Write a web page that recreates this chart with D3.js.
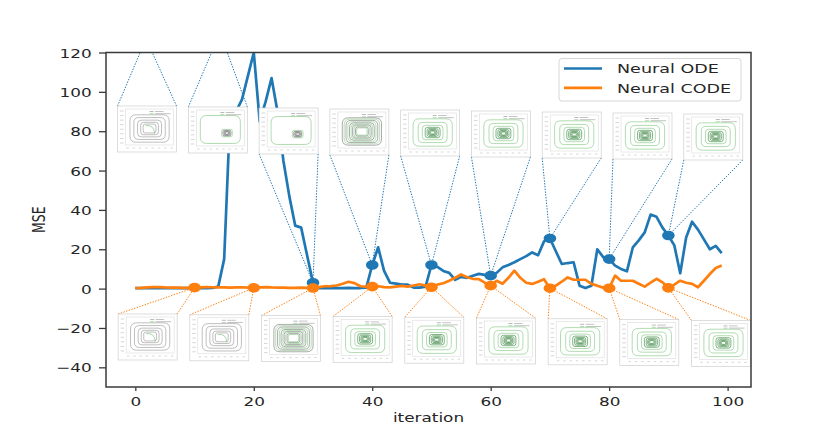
<!DOCTYPE html>
<html><head><meta charset="utf-8">
<script src="https://cdn.jsdelivr.net/npm/d3@7"></script>
<style>
body{margin:0;background:#fff}
svg{display:block}
text{font-family:"DejaVu Sans",sans-serif;fill:#262626}
</style>
</head><body>
<svg id="c" width="831" height="435"></svg>
<script>
// ---------- data ----------
const seriesNames = ["Neural ODE", "Neural CODE"];
const ode = [
  0.2,0.2,0.3,0.2,0.2,0.3,0.2,0.2,0.2,0.3,
  0.2,0.2,0.3,0.4,1,15,88,90,96,108,
  120,85,95,107,90,65,47,32,31,17,
  3,0.3,0.3,0.4,0.3,0.3,0.4,0.3,0.3,0.5,
  12,21,9,3,2.5,2,2,0.5,0.5,1,
  12,11,9,8,4.5,6,5.5,6.5,7.5,7,
  6.6,8,10.8,12,13.4,15,16.5,18.4,17,24,
  25.5,19,12.5,13,13.4,1.5,0.3,1.5,20,16,
  15,11.7,10,8.8,21,24.5,28.6,37.6,36.5,31,
  27,22,7.8,26,34,30,25,20,21.7,18
];
const codeV = [
  0.3,0.4,0.6,0.8,0.8,0.6,0.5,0.5,0.4,0.4,
  0.5,0.6,0.8,0.7,0.6,0.6,0.5,0.6,0.7,0.5,
  0.4,0.6,0.8,0.6,0.5,0.5,0.4,0.4,0.5,0.4,
  0.3,0.8,1.2,1.3,1.6,2.5,3.5,2.8,1.2,1.0,
  1.0,1.2,0.8,0.6,1.0,1.4,1.0,1.6,2.2,1.5,
  0.7,2.0,2.7,4.0,5.5,7.2,5.8,5.0,4.8,3.0,
  1.5,4.0,2.5,5.5,9.1,5.5,3.0,2.4,3.5,4.8,
  0.2,1.5,3.5,5.7,4.5,4.5,4.5,2.4,1.5,0.5,
  0.2,6.6,4.0,4.0,4.0,2.5,1.0,3.0,5.0,3.2,
  0.4,2.0,4.0,3.0,2.4,0.7,4.0,7.4,10.5,11.7
];
const xTicks = [0,20,40,60,80,100];
const yTicks = [-40,-20,0,20,40,60,80,100,120];
const odeMarkerIters = [30,40,50,60,70,80,90];
const codeMarkerIters = [10,20,30,40,50,60,70,80,90];
// connector targets of the first two upper insets (above the visible range)
const odeOffTargets = [[1.8,127],[14.3,130]];
const upperThumbTypes = ["gray","sparse","sparse","dense","green","green","green","green","green"];
const lowerThumbTypes = ["gray","gray","dense","green","green","green","green","green","green"];

// ---------- layout ----------
const C1 = "#1f77b4", C2 = "#ff7f0e";
const SX = 1.35;               // horizontal stretch of the original picture
const M = {l:106, r:751, t:52.5, b:387};
const x = d3.scaleLinear().domain([-4.95,103.95]).range([M.l,M.r]);
const y = d3.scaleLinear().domain([-50,120]).range([M.b,M.t]);
const svg = d3.select("#c");
svg.append("defs").append("clipPath").attr("id","clip")
  .append("rect").attr("x",M.l).attr("y",M.t).attr("width",M.r-M.l).attr("height",M.b-M.t);

const plot = svg.append("g").attr("clip-path","url(#clip)");
const line = d3.line().x((d,i)=>x(i)).y(d=>y(d));
plot.append("path").datum(ode).attr("d",line).attr("fill","none")
  .attr("stroke",C1).attr("stroke-width",2.7).attr("stroke-linejoin","round");
plot.append("path").datum(codeV).attr("d",line).attr("fill","none")
  .attr("stroke",C2).attr("stroke-width",2.7).attr("stroke-linejoin","round");

// inset boxes
const TW = 59, TH = 46;
const upperBoxes = upperThumbTypes.map((t,k)=>({x0:x(-3+11.95*k), y0:106+k*1.0, type:t}));
const lowerBoxes = lowerThumbTypes.map((t,k)=>({x0:x(-2.9+12.1*k), y0:314+k*0.8, type:t}));

// connectors
const upperTargets = odeOffTargets.concat(odeMarkerIters.map(i=>[i,ode[i]]));
const conn = plot.append("g").attr("fill","none").attr("stroke-width",1).attr("stroke-dasharray","1.4,1.4");
upperBoxes.forEach((b,k)=>{
  const [ti,tv] = upperTargets[k];
  const tx = x(ti), ty = y(tv);
  const cy = ty < b.y0 ? b.y0 : b.y0+TH;
  [[b.x0,cy],[b.x0+TW,cy]].forEach(p=>{
    conn.append("line").attr("x1",p[0]).attr("y1",p[1]).attr("x2",tx).attr("y2",ty).attr("stroke",C1);
  });
});
lowerBoxes.forEach((b,k)=>{
  const i = codeMarkerIters[k];
  const tx = x(i), ty = y(codeV[i]);
  [[b.x0,b.y0],[b.x0+TW,b.y0]].forEach(p=>{
    conn.append("line").attr("x1",p[0]).attr("y1",p[1]).attr("x2",tx).attr("y2",ty).attr("stroke",C2);
  });
});

// markers
const mk = svg.append("g");
odeMarkerIters.forEach(i=>mk.append("ellipse").attr("cx",x(i)).attr("cy",y(ode[i])).attr("rx",6.3).attr("ry",4.8).attr("fill",C1));
codeMarkerIters.forEach(i=>mk.append("ellipse").attr("cx",x(i)).attr("cy",y(codeV[i])).attr("rx",6.3).attr("ry",4.8).attr("fill",C2));

// thumbnails (decorative phase portraits)
function rr(cx,cy,hw,hh){
  const r = Math.min(hw,hh)*0.45;
  const p = d3.path();
  p.moveTo(cx-hw+r,cy-hh);
  p.lineTo(cx+hw-r,cy-hh); p.quadraticCurveTo(cx+hw,cy-hh,cx+hw,cy-hh+r);
  p.lineTo(cx+hw,cy+hh-r); p.quadraticCurveTo(cx+hw,cy+hh,cx+hw-r,cy+hh);
  p.lineTo(cx-hw+r,cy+hh); p.quadraticCurveTo(cx-hw,cy+hh,cx-hw,cy+hh-r);
  p.lineTo(cx-hw,cy-hh+r); p.quadraticCurveTo(cx-hw,cy-hh,cx-hw+r,cy-hh);
  return p.toString();
}
const GREY="#8a8a8a", GL="#7cc47c", GD="#2f7f35";
const thumbs = svg.append("g");
function thumb(b){
  const g = thumbs.append("g");
  g.append("rect").attr("x",b.x0).attr("y",b.y0).attr("width",TW).attr("height",TH)
    .attr("fill","#fff").attr("stroke","#cfcfcf").attr("stroke-width",0.7);
  const ix=b.x0+8, iy=b.y0+3, iw=TW-11, ih=TH-10;
  g.append("rect").attr("x",ix).attr("y",iy).attr("width",iw).attr("height",ih)
    .attr("fill","none").attr("stroke","#d4d4d4").attr("stroke-width",0.5);
  for(let j=0;j<8;j++){
    g.append("line").attr("x1",b.x0+2.5).attr("x2",b.x0+6).attr("y1",iy+2+j*(ih-4)/7).attr("y2",iy+2+j*(ih-4)/7)
      .attr("stroke","#c4c4c4").attr("stroke-width",0.7);
    g.append("line").attr("x1",ix+2+j*(iw-4)/7-1.2).attr("x2",ix+2+j*(iw-4)/7+1.2).attr("y1",iy+ih+3).attr("y2",iy+ih+3)
      .attr("stroke","#c4c4c4").attr("stroke-width",0.7);
  }
  // tiny legend
  const lx = ix+iw-24, ly = iy+2.5;
  g.append("line").attr("x1",lx).attr("x2",lx+4).attr("y1",ly).attr("y2",ly).attr("stroke",GREY).attr("stroke-width",0.6);
  g.append("line").attr("x1",lx).attr("x2",lx+4).attr("y1",ly+2.2).attr("y2",ly+2.2).attr("stroke",GL).attr("stroke-width",0.6);
  g.append("line").attr("x1",lx+5.5).attr("x2",lx+14).attr("y1",ly).attr("y2",ly).attr("stroke","#9a9a9a").attr("stroke-width",0.6);
  g.append("line").attr("x1",lx+5.5).attr("x2",lx+21).attr("y1",ly+2.2).attr("y2",ly+2.2).attr("stroke","#9a9a9a").attr("stroke-width",0.6);
  const cx=ix+iw/2, cy=iy+ih/2+1.5, hw=iw/2*0.86, hh=ih/2*0.8;
  const ring=(s,col,w,ox=0,oy=0)=>g.append("path").attr("d",rr(cx+ox,cy+oy,hw*s,hh*s))
    .attr("fill","none").attr("stroke",col).attr("stroke-width",w);
  if(b.type==="gray"){
    [0.95,0.76,0.58,0.43,0.31].forEach(s=>ring(s,GREY,0.55));
    g.append("path").attr("d",`M${cx-hw*0.2},${cy-hh*0.2} Q${cx+hw*0.2},${cy-hh*0.3} ${cx+hw*0.25},${cy+hh*0.35}`)
      .attr("fill","none").attr("stroke",GL).attr("stroke-width",0.7);
  } else if(b.type==="sparse"){
    ring(0.97,GL,0.6);
    [0.26,0.19,0.13,0.08].forEach((s,j)=>ring(s,j===0?GL:"#444",0.55,hw*0.32,hh*0.25));
  } else if(b.type==="dense"){
    [0.95,0.86,0.77,0.68,0.6,0.52,0.45,0.38,0.31,0.25].forEach((s,j)=>ring(s,j%2?GL:"#666",0.55));
  } else {
    [0.95,0.7,0.5,0.36,0.27,0.2,0.15,0.1].forEach((s,j)=>ring(s,j<3?GL:GD,0.6));
  }
}
upperBoxes.forEach(thumb);
lowerBoxes.forEach(thumb);

// frame
svg.append("rect").attr("x",M.l).attr("y",M.t).attr("width",M.r-M.l).attr("height",M.b-M.t)
  .attr("fill","none").attr("stroke","#3a3a3a").attr("stroke-width",1.5);

// axes
const ya = svg.append("g").attr("transform",`translate(${M.l},0)`)
  .call(d3.axisLeft(y).tickValues(yTicks).tickSize(7).tickFormat(d=>d<0?"\u2212"+(-d):d));
ya.select(".domain").remove();
ya.selectAll("line").attr("stroke","#3a3a3a").attr("stroke-width",1.3);
ya.selectAll("text").attr("x",null).attr("dy","0.36em").attr("font-size",12.5)
  .attr("transform",`translate(-14.3,0) scale(${SX},1)`).attr("fill","#262626");
const xa = svg.append("g").attr("transform",`translate(0,${M.b})`)
  .call(d3.axisBottom(x).tickValues(xTicks).tickSize(4));
xa.select(".domain").remove();
xa.selectAll("line").attr("stroke","#3a3a3a").attr("stroke-width",1.3);
xa.selectAll("text").attr("y",null).attr("dy",null).attr("font-size",12.5)
  .attr("transform",`translate(0,19) scale(${SX},1)`).attr("fill","#262626");

svg.append("text").attr("text-anchor","middle").attr("font-size",12.5)
  .attr("transform",`translate(${(M.l+M.r)/2},421.5) scale(${SX},1)`).text("iteration");
svg.append("text").attr("text-anchor","middle").attr("font-size",12.5)
  .attr("transform",`translate(45,${(M.t+M.b)/2}) scale(${SX},1) rotate(-90)`).text("MSE");

// legend
const lg = svg.append("g");
lg.append("rect").attr("x",559).attr("y",58.5).attr("width",182).attr("height",42.5).attr("rx",3)
  .attr("fill","#fff").attr("fill-opacity",0.85).attr("stroke","#d6d6d6").attr("stroke-width",1);
seriesNames.forEach((n,k)=>{
  const ly = 68.5 + k*19.3;
  lg.append("line").attr("x1",564).attr("x2",602).attr("y1",ly).attr("y2",ly)
    .attr("stroke",k?C2:C1).attr("stroke-width",2.7);
  lg.append("text").attr("font-size",13).attr("transform",`translate(617,${ly+4.8}) scale(${SX},1)`).text(n);
});
</script>
</body></html>
